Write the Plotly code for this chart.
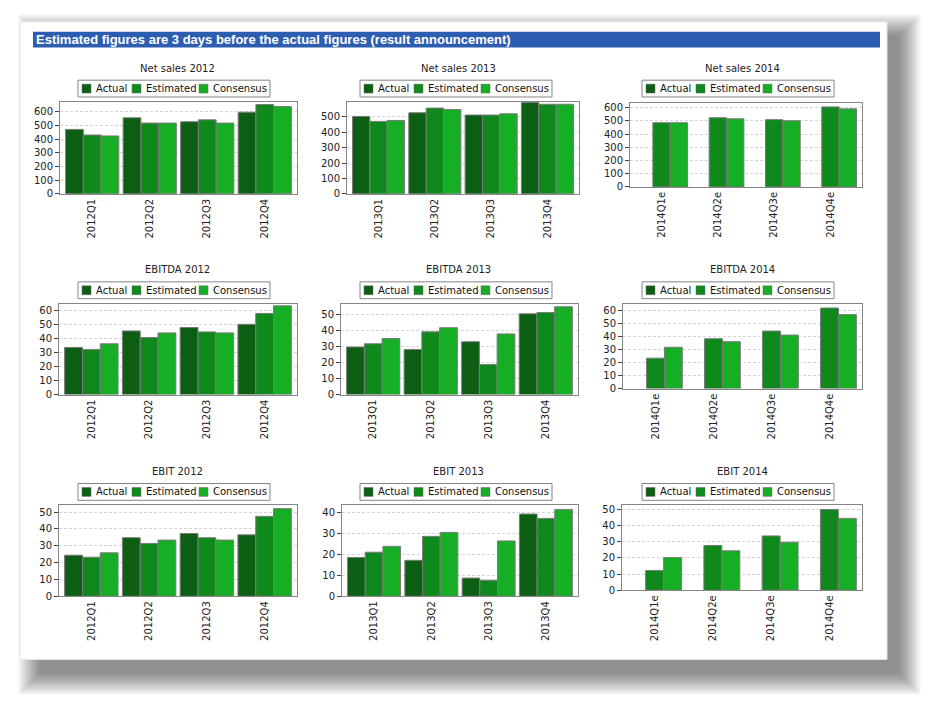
import plotly.graph_objects as go

# the page body adds an 8px margin, so the figure is a bit smaller and shifted
OFF = 8
W, H = 929 - OFF, 707 - OFF

# ---- data ----
quarters_2012 = ["2012Q1", "2012Q2", "2012Q3", "2012Q4"]
quarters_2013 = ["2013Q1", "2013Q2", "2013Q3", "2013Q4"]
quarters_2014 = ["2014Q1e", "2014Q2e", "2014Q3e", "2014Q4e"]

series_names = ["Actual", "Estimated", "Consensus"]
series_colors = ["#0B5E12", "#0F891C", "#15AE24"]

net_sales_2012_actual = [472, 557, 528, 598]
net_sales_2012_estimated = [431, 518, 542, 654]
net_sales_2012_consensus = [424, 518, 518, 639]

net_sales_2013_actual = [502, 526, 511, 592]
net_sales_2013_estimated = [470, 556, 511, 581]
net_sales_2013_consensus = [476, 547, 519, 581]

net_sales_2014_actual = [None, None, None, None]
net_sales_2014_estimated = [487, 525, 510, 607]
net_sales_2014_consensus = [487, 517, 502, 592]

ebitda_2012_actual = [33.6, 45.4, 47.8, 50.1]
ebitda_2012_estimated = [32.2, 40.7, 44.7, 57.9]
ebitda_2012_consensus = [36.2, 44.0, 44.0, 63.3]

ebitda_2013_actual = [29.8, 28.3, 33.1, 50.6]
ebitda_2013_estimated = [31.8, 39.3, 18.8, 51.4]
ebitda_2013_consensus = [35.1, 41.9, 38.0, 55.0]

ebitda_2014_actual = [None, None, None, None]
ebitda_2014_estimated = [23.5, 38.5, 44.4, 62.2]
ebitda_2014_consensus = [31.9, 36.2, 41.3, 57.1]

ebit_2012_actual = [24.4, 34.8, 37.3, 36.5]
ebit_2012_estimated = [23.2, 31.4, 34.8, 47.5]
ebit_2012_consensus = [25.8, 33.4, 33.4, 52.1]

ebit_2013_actual = [18.6, 17.2, 8.7, 39.4]
ebit_2013_estimated = [21.1, 28.7, 7.7, 37.3]
ebit_2013_consensus = [23.9, 30.6, 26.5, 41.6]

ebit_2014_actual = [None, None, None, None]
ebit_2014_estimated = [12.2, 27.6, 33.5, 49.8]
ebit_2014_consensus = [20.2, 24.3, 29.6, 44.3]

chart_titles = ["Net sales 2012", "Net sales 2013", "Net sales 2014",
                "EBITDA 2012", "EBITDA 2013", "EBITDA 2014",
                "EBIT 2012", "EBIT 2013", "EBIT 2014"]
chart_categories = [quarters_2012, quarters_2013, quarters_2014] * 3
chart_series = [
    [net_sales_2012_actual, net_sales_2012_estimated, net_sales_2012_consensus],
    [net_sales_2013_actual, net_sales_2013_estimated, net_sales_2013_consensus],
    [net_sales_2014_actual, net_sales_2014_estimated, net_sales_2014_consensus],
    [ebitda_2012_actual, ebitda_2012_estimated, ebitda_2012_consensus],
    [ebitda_2013_actual, ebitda_2013_estimated, ebitda_2013_consensus],
    [ebitda_2014_actual, ebitda_2014_estimated, ebitda_2014_consensus],
    [ebit_2012_actual, ebit_2012_estimated, ebit_2012_consensus],
    [ebit_2013_actual, ebit_2013_estimated, ebit_2013_consensus],
    [ebit_2014_actual, ebit_2014_estimated, ebit_2014_consensus],
]
y_tops = [673, 596, 637, 64.9, 57, 65.6, 54.1, 43.6, 52.4]
y_steps = [100, 100, 100, 10, 10, 10, 10, 10, 10]

banner_text = "Estimated figures are 3 days before the actual figures (result announcement)"


def px(x):
    return (x - OFF) / W


def py(y):
    return 1 - (y - OFF) / H


# ---- layout geometry (window pixels) ----
plot_x = [[(60, 297), (347, 579), (630, 862)],
          [(59, 297), (341, 578), (623, 862)],
          [(59, 297), (342, 578), (622, 862)]]
plot_y = [[(101, 194), (101, 194), (102, 187)],
          [(305, 397), (305, 397), (305, 391)],
          [(509, 601), (509, 601), (509, 595)]]
title_x = [177, 458, 742]
title_y = [67, 271, 475]
legend_left = [78, 360, 642]
legend_top = [79, 283, 487]

FONT = "DejaVu Sans"
BORDER = "#858585"

fig = go.Figure()
layout = {}
shapes = []
annotations = []

# panel with soft drop shadow (stacked translucent rects fake the blur)
for k in range(22):
    s = k * 1.05
    shapes.append(dict(type="rect", xref="paper", yref="paper", layer="below",
                       x0=px(40 - s), x1=px(899 + s),
                       y0=py(34 - s), y1=py(679 + s),
                       line=dict(width=0), fillcolor="rgba(0,0,0,0.024)"))
shapes.append(dict(type="rect", xref="paper", yref="paper", layer="below",
                   x0=px(20), x1=px(887), y0=py(20), y1=py(665),
                   line=dict(color="#E6E6E6", width=1), fillcolor="white"))
shapes.append(dict(type="rect", xref="paper", yref="paper", layer="below",
                   x0=px(33), x1=px(880), y0=py(30), y1=py(46),
                   line=dict(width=0), fillcolor="#2C5DB0"))
annotations.append(dict(text=banner_text, xref="paper", yref="paper",
                        x=px(34), y=py(38), xanchor="left", yanchor="middle",
                        showarrow=False,
                        font=dict(family="Liberation Sans", size=13, color="white", weight="bold")))

legend_sq = [4, 54, 121]
legend_tx = [16, 66, 133]

for i in range(9):
    r, c = divmod(i, 3)
    n = i + 1
    xa = "x" if n == 1 else f"x{n}"
    ya = "y" if n == 1 else f"y{n}"
    for name, color, vals in zip(series_names, series_colors, chart_series[i]):
        fig.add_trace(go.Bar(x=chart_categories[i], y=vals, name=name,
                             xaxis=xa, yaxis=ya, showlegend=False,
                             marker=dict(color=color, line=dict(color="#7A7A7A", width=1))))
    x0, x1 = plot_x[r][c]
    y0, y1 = plot_y[r][c]
    layout["xaxis" if n == 1 else f"xaxis{n}"] = dict(
        domain=[px(x0), px(x1)], anchor=ya, range=[-0.56, 3.56],
        showline=True, mirror=True, linecolor=BORDER, linewidth=1,
        ticks="", tickangle=-90, showgrid=False,
        tickfont=dict(family=FONT, size=10, color="#222"))
    layout["yaxis" if n == 1 else f"yaxis{n}"] = dict(
        domain=[py(y1), py(y0)], anchor=xa, range=[0, y_tops[i]], dtick=y_steps[i],
        showline=True, mirror=True, linecolor=BORDER, linewidth=1,
        ticks="outside", ticklen=4, tickcolor="#444",
        showgrid=True, gridcolor="#D4D4D4", griddash="3px,2px", zeroline=False,
        tickfont=dict(family=FONT, size=10, color="#222"))

    annotations.append(dict(text=chart_titles[i], xref="paper", yref="paper",
                            x=px(title_x[c]), y=py(title_y[r]), xanchor="center", yanchor="middle",
                            showarrow=False, font=dict(family=FONT, size=10, color="#222")))
    L, T = legend_left[c], legend_top[r]
    shapes.append(dict(type="rect", xref="paper", yref="paper",
                       x0=px(L), x1=px(L + 192), y0=py(T), y1=py(T + 17),
                       line=dict(color=BORDER, width=1), fillcolor="white"))
    for name, color, sq, tx in zip(series_names, series_colors, legend_sq, legend_tx):
        shapes.append(dict(type="rect", xref="paper", yref="paper",
                           x0=px(L + sq), x1=px(L + sq + 9), y0=py(T + 4), y1=py(T + 13),
                           line=dict(color="#6A6A6A", width=0.5), fillcolor=color))
        annotations.append(dict(text=name, xref="paper", yref="paper",
                                x=px(L + tx), y=py(T + 8.5), xanchor="left", yanchor="middle",
                                showarrow=False, font=dict(family=FONT, size=10, color="#111")))

fig.update_layout(
    width=W, height=H, autosize=False,
    margin=dict(l=0, r=0, t=0, b=0),
    paper_bgcolor="white", plot_bgcolor="white",
    barmode="group", bargap=0.075, bargroupgap=0,
    shapes=shapes, annotations=annotations,
    **layout
)

fig.write_html("out.html")
